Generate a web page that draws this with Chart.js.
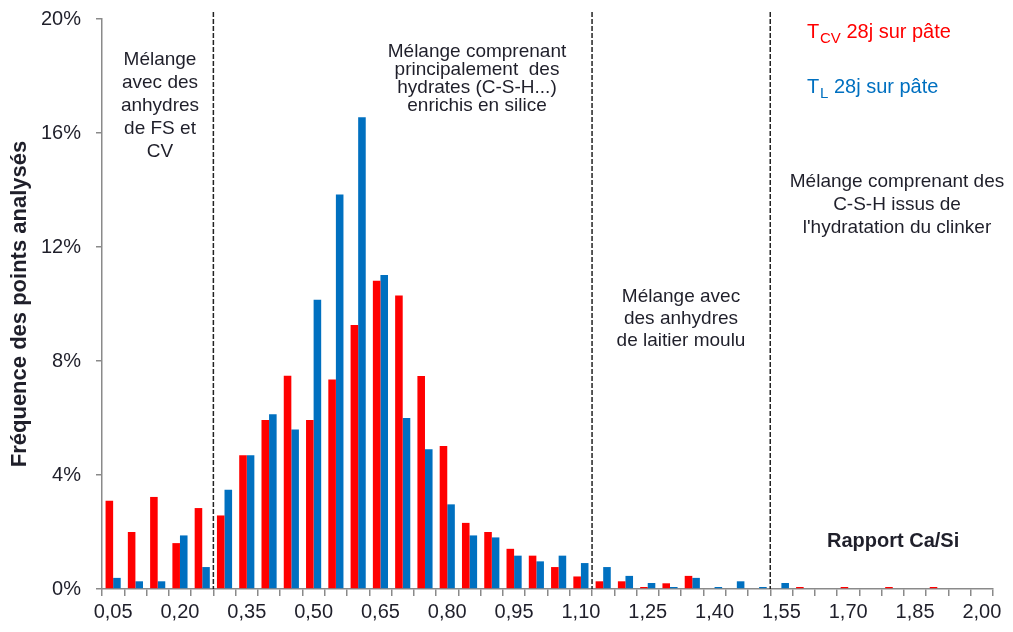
<!DOCTYPE html>
<html>
<head>
<meta charset="utf-8">
<script src="https://cdn.jsdelivr.net/npm/chart.js@4/dist/chart.umd.min.js"></script>
<style>
  html, body { margin: 0; padding: 0; background: #fff; }
  #wrap { width: 1013px; height: 632px; }
</style>
</head>
<body>
<div id="wrap"><canvas id="chart" width="1013" height="632"></canvas></div>
<script>
// Ca/Si classes (upper bound of each 0,05 bin)
const categories = ['0,05','0,10','0,15','0,20','0,25','0,30','0,35','0,40','0,45','0,50',
  '0,55','0,60','0,65','0,70','0,75','0,80','0,85','0,90','0,95','1,00',
  '1,05','1,10','1,15','1,20','1,25','1,30','1,35','1,40','1,45','1,50',
  '1,55','1,60','1,65','1,70','1,75','1,80','1,85','1,90','1,95','2,00'];

// frequency (%) - TCV 28j sur pâte
const tcvValues = [3.10, 2.00, 3.23, 1.61, 2.84, 2.58, 4.69, 5.93, 7.48, 5.93,
  7.35, 9.26, 10.82, 10.30, 7.47, 5.02, 2.32, 2.00, 1.41, 1.17,
  0.77, 0.44, 0.27, 0.27, 0.07, 0.20, 0.46, 0, 0, 0,
  0, 0.07, 0, 0.07, 0, 0.07, 0, 0.07, 0, 0];

// frequency (%) - TL 28j sur pâte
const tlValues = [0.39, 0.27, 0.27, 1.88, 0.77, 3.48, 4.69, 6.13, 5.60, 10.15,
  13.84, 16.55, 11.02, 6.00, 4.90, 2.97, 1.88, 1.81, 1.17, 0.97,
  1.17, 0.91, 0.77, 0.46, 0.21, 0.07, 0.39, 0.07, 0.27, 0.07,
  0.21, 0, 0, 0, 0, 0, 0, 0, 0, 0];

const yTicks = [0, 4, 8, 12, 16, 20];

// dashed separators drawn right after these classes
const separatorsAfter = ['0,25', '1,10', '1,50'];

const zoneNotes = [
  { x: 160, y: 60, step: 23, lines: ['Mélange', 'avec des', 'anhydres', 'de FS et', 'CV'] },
  { x: 477, y: 52, step: 18, lines: ['Mélange comprenant', 'principalement  des', 'hydrates (C-S-H...)', 'enrichis en silice'] },
  { x: 681, y: 297, step: 21.7, lines: ['Mélange avec', 'des anhydres', 'de laitier moulu'] },
  { x: 897, y: 182, step: 23, lines: ['Mélange comprenant des', 'C-S-H issus de', "l'hydratation du clinker"] }
];

const RED = '#FF0000';
const BLUE = '#0070C0';
const AXIS = '#8a8a8a';
const TEXT = '#1f1f2a';
const FONT = "'Liberation Sans', Arial, sans-serif";

const overlayPlugin = {
  id: 'overlay',
  afterDatasetsDraw(chart) {
    const ctx = chart.ctx;
    const xs = chart.scales.x;
    const area = chart.chartArea;
    ctx.save();

    // dashed zone separators
    ctx.strokeStyle = '#222';
    ctx.lineWidth = 1.5;
    ctx.setLineDash([5, 2]);
    separatorsAfter.forEach(lbl => {
      const i = categories.indexOf(lbl);
      const x = (xs.getPixelForValue(i) + xs.getPixelForValue(i + 1)) / 2;
      ctx.beginPath();
      ctx.moveTo(x, 12);
      ctx.lineTo(x, area.bottom);
      ctx.stroke();
    });
    ctx.setLineDash([]);

    // zone notes
    ctx.fillStyle = TEXT;
    ctx.font = '19px ' + FONT;
    ctx.textAlign = 'center';
    ctx.textBaseline = 'middle';
    zoneNotes.forEach(n => {
      n.lines.forEach((t, k) => ctx.fillText(t, n.x, n.y + k * n.step));
    });

    // series labels with subscripts
    ctx.textAlign = 'left';
    ctx.textBaseline = 'alphabetic';
    const drawKey = (color, sub, y) => {
      ctx.fillStyle = color;
      ctx.font = '20px ' + FONT;
      ctx.fillText('T', 807, y);
      ctx.font = '15px ' + FONT;
      ctx.fillText(sub, 820, y + 5);
      const w = ctx.measureText(sub).width;
      ctx.font = '20px ' + FONT;
      ctx.fillText(' 28j sur pâte', 820 + w, y);
    };
    drawKey(RED, 'CV', 38);
    drawKey(BLUE, 'L', 93);

    // axis caption
    ctx.fillStyle = TEXT;
    ctx.font = 'bold 20px ' + FONT;
    ctx.fillText('Rapport Ca/Si', 827, 547);
    ctx.restore();
  }
};

new Chart(document.getElementById('chart'), {
  type: 'bar',
  data: {
    labels: categories,
    datasets: [
      { label: 'TCV 28j sur pâte', data: tcvValues, backgroundColor: RED, borderWidth: 0,
        barPercentage: 1, categoryPercentage: 0.68 },
      { label: 'TL 28j sur pâte', data: tlValues, backgroundColor: BLUE, borderWidth: 0,
        barPercentage: 1, categoryPercentage: 0.68 }
    ]
  },
  options: {
    responsive: false,
    animation: false,
    layout: { padding: { top: 19, right: 20, left: 0, bottom: 0 } },
    plugins: {
      legend: { display: false },
      tooltip: { enabled: false }
    },
    scales: {
      x: {
        offset: true,
        grid: { display: true, drawOnChartArea: false, drawTicks: true, tickLength: 7,
                color: AXIS, lineWidth: 1.5, offset: true },
        border: { color: AXIS, width: 1.5 },
        ticks: {
          autoSkip: false, maxRotation: 0, minRotation: 0, padding: 4,
          color: TEXT, font: { family: FONT, size: 20 },
          callback: function (val, idx) { return idx % 3 === 0 ? this.getLabelForValue(val) : ''; }
        },
        afterFit: s => { s.height = 43; s.paddingLeft = 0; s.paddingRight = 0; }
      },
      y: {
        min: 0, max: 20,
        afterBuildTicks: s => { s.ticks = yTicks.map(v => ({ value: v })); },
        grid: { display: true, drawOnChartArea: false, drawTicks: true, tickLength: 6,
                color: AXIS, lineWidth: 1.5 },
        border: { color: AXIS, width: 1.5 },
        ticks: {
          padding: 15, color: TEXT, font: { family: FONT, size: 20 },
          callback: v => v + '%'
        },
        title: {
          display: true, text: 'Fréquence des points analysés', color: TEXT,
          font: { family: FONT, size: 22, weight: 'bold' }, padding: { top: 7, bottom: 0 }
        },
        afterFit: s => { s.width = 102; s.paddingTop = 0; s.paddingBottom = 0; }
      }
    }
  },
  plugins: [overlayPlugin]
});
</script>
</body>
</html>
